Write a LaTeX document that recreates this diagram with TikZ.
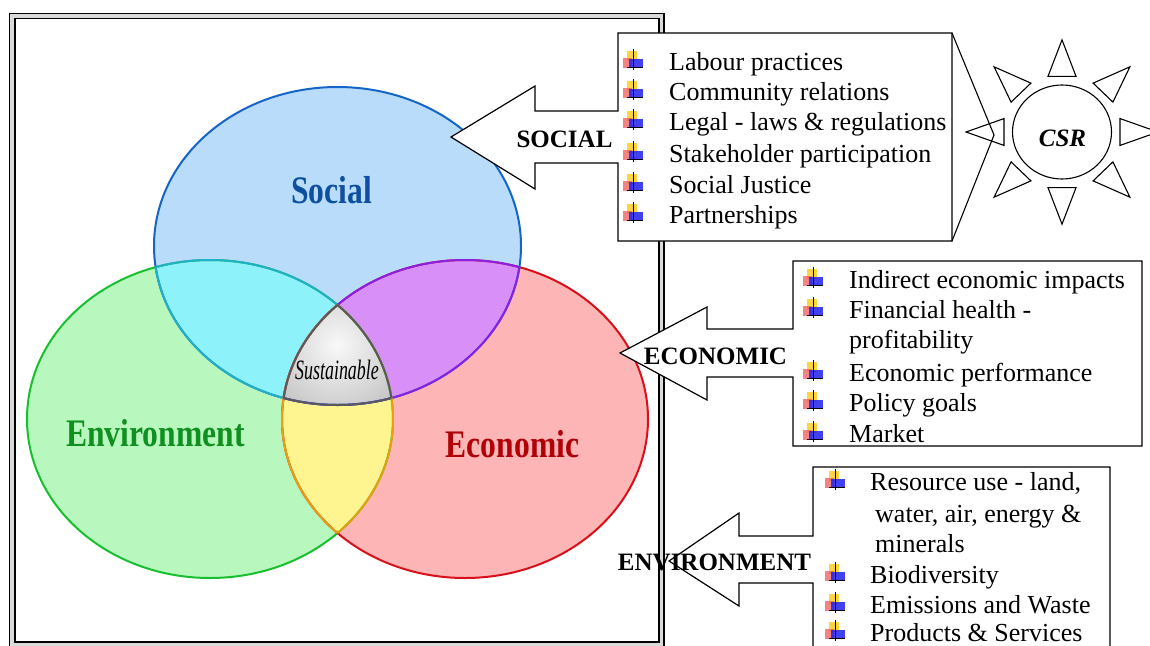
\documentclass[tikz,border=0pt]{standalone}
\usepackage{fontspec}
\setmainfont{Liberation Serif}
\definecolor{socF}{HTML}{B9DCFA}
\definecolor{socL}{HTML}{1565C8}
\definecolor{socT}{HTML}{0D4FA0}
\definecolor{envF}{HTML}{B8F8BE}
\definecolor{envL}{HTML}{18C030}
\definecolor{envT}{HTML}{109020}
\definecolor{ecoF}{HTML}{FDB5B5}
\definecolor{ecoL}{HTML}{D8101A}
\definecolor{ecoT}{HTML}{B00008}
\definecolor{cyF}{HTML}{8EF2FA}
\definecolor{cyL}{HTML}{20B0C8}
\definecolor{puF}{HTML}{D890F8}
\definecolor{puL}{HTML}{8A20E0}
\definecolor{yeF}{HTML}{FFF590}
\definecolor{yeL}{HTML}{E8A010}
\definecolor{bulY}{HTML}{FFD030}
\definecolor{bulR}{HTML}{F05050}
\definecolor{bulB}{HTML}{2020F0}
\def\pathSoc{(337.5,246) ellipse [x radius=183.5, y radius=159]}
\def\pathEnv{(210,419) ellipse [x radius=183, y radius=159]}
\def\pathEco{(465,419) ellipse [x radius=183, y radius=159]}
\tikzset{
  vennline/.style={line width=2pt},
  boxline/.style={draw=black, fill=white, line width=1.2pt, line join=miter},
  listtxt/.style={anchor=base west, inner sep=0pt, font=\fontsize{26}{30}\selectfont},
  arrowlbl/.style={anchor=base, inner sep=0pt, font=\fontsize{25}{25}\selectfont\bfseries},
  vennlbl/.style={anchor=base, inner sep=0pt, font=\fontsize{39}{40}\selectfont\bfseries},
  sunline/.style={line width=1.1pt},
  bul/.pic={
    \fill[bulY, opacity=.9] (4,-19) rectangle (14,-9);
    \fill[bulR, opacity=.7] (0,-12) rectangle (9,-2);
    \fill[bulB, opacity=.85] (6,-11) rectangle (20,-2);
    \draw[line width=1pt] (10,-21) -- (10,0);
    \draw[line width=1pt] (4,-3) -- (20,-3);
  }
}
\begin{document}
\begin{tikzpicture}[x=1pt,y=-1pt]
\useasboundingbox (0,0) rectangle (1150,645);
% frame
\draw[line width=4pt, gray!30] (12.2,16) rectangle (661.6,644.8);
\draw[line width=1.6pt] (9.5,13.5) rectangle (664,647.5);
\draw[line width=1.2pt] (15,18.5) rectangle (659,642);
% venn fills
\fill[envF] \pathEnv;
\fill[ecoF] \pathEco;
\fill[socF] \pathSoc;
\begin{scope}
  \clip \pathSoc;
  \fill[cyF] \pathEnv;
  \fill[puF] \pathEco;
\end{scope}
\begin{scope}
  \clip \pathEnv;
  \fill[yeF] \pathEco;
  \begin{scope}
    \clip \pathEco;
    \clip \pathSoc;
    \shade[inner color=gray!5, outer color=gray!75] (337,345) circle [radius=130];
  \end{scope}
\end{scope}
% venn borders
\draw[vennline, envL] \pathEnv;
\draw[vennline, ecoL] \pathEco;
\draw[vennline, socL] \pathSoc;
\begin{scope}
  \clip \pathSoc;
  \draw[vennline, cyL] \pathEnv;
  \draw[vennline, puL] \pathEco;
\end{scope}
\begin{scope}
  \clip \pathEnv;
  \draw[vennline, cyL] \pathSoc;
  \draw[vennline, yeL] \pathEco;
\end{scope}
\begin{scope}
  \clip \pathEco;
  \draw[vennline, puL] \pathSoc;
  \draw[vennline, yeL] \pathEnv;
\end{scope}
\begin{scope}
  \clip \pathEnv; \clip \pathEco;
  \draw[vennline, gray!70!black] \pathSoc;
\end{scope}
\begin{scope}
  \clip \pathSoc; \clip \pathEco;
  \draw[vennline, gray!70!black] \pathEnv;
\end{scope}
\begin{scope}
  \clip \pathSoc; \clip \pathEnv;
  \draw[vennline, gray!70!black] \pathEco;
\end{scope}
% venn labels
\node[vennlbl, text=socT] (lsoc) at (331.5,203) {\scalebox{0.81}[1]{Social}};
\node[vennlbl, text=envT] (lenv) at (155.5,446) {\scalebox{0.81}[1]{Environment}};
\node[vennlbl, text=ecoT] (leco) at (512.5,457) {\scalebox{0.81}[1]{Economic}};
\node[anchor=base, inner sep=0pt, font=\fontsize{28}{28}\selectfont\itshape] (lsus) at (337,379) {\scalebox{0.64}[1]{Sustainable}};
% social box + arrow
\path[boxline] (618,33) -- (952,33) -- (952,241) -- (618,241) -- (618,163) -- (535,163) -- (535,189) -- (451,137) -- (535,86) -- (535,111) -- (618,111) -- cycle;
% economic box + arrow
\path[boxline] (793,261) -- (1142,261) -- (1142,446) -- (793,446) -- (793,377) -- (707,377) -- (707,400) -- (620,353) -- (707,307) -- (707,329) -- (793,329) -- cycle;
% environment box + arrow
\path[boxline] (813,467) -- (1110,467) -- (1110,660) -- (813,660) -- (813,583) -- (739,583) -- (739,606) -- (669,561) -- (739,513) -- (739,536) -- (813,536) -- cycle;
% arrow labels
\node[arrowlbl] (asoc) at (564.5,147) {SOCIAL};
\node[arrowlbl] (aeco) at (715.5,364) {ECONOMIC};
\node[arrowlbl] (aenv) at (714.5,570) {ENVIRONMENT};
% social list
\foreach \yy in {70,100,130,162,193,223} \pic at (623,\yy) {bul};
\node[listtxt] (s1) at (669,70) {Labour practices};
\node[listtxt] (s2) at (669,100) {Community relations};
\node[listtxt] (s3) at (669,130) {Legal - laws \& regulations};
\node[listtxt] (s4) at (669,162) {Stakeholder participation};
\node[listtxt] (s5) at (669,193) {Social Justice};
\node[listtxt] (s6) at (669,223) {Partnerships};
% economic list
\foreach \yy in {288,318,381,411,442} \pic at (803,\yy) {bul};
\node[listtxt] (e1) at (849,288) {Indirect economic impacts};
\node[listtxt] (e2) at (849,318) {Financial health -};
\node[listtxt] (e3) at (849,348) {profitability};
\node[listtxt] (e4) at (849,381) {Economic performance};
\node[listtxt] (e5) at (849,411) {Policy goals};
\node[listtxt] (e6) at (849,442) {Market};
% environment list
\foreach \yy in {490,583,613,641} \pic at (825,\yy) {bul};
\node[listtxt] (n1) at (870,490) {Resource use - land,};
\node[listtxt] (n2) at (875,522) {water, air, energy \&};
\node[listtxt] (n3) at (875,552) {minerals};
\node[listtxt] (n4) at (870,583) {Biodiversity};
\node[listtxt] (n5) at (870,613) {Emissions and Waste};
\node[listtxt] (n6) at (870,641) {Products \& Services};
% CSR sun
\coordinate (wedge) at (994,135);
\draw[sunline] (952,33) -- (wedge) -- (952,241);
\draw[sunline] (1062,132) ellipse [x radius=49.5, y radius=47];
\begin{scope}[shift={(1062,132)}, yscale=0.96]
  \foreach \a in {0,45,...,315} {
    \draw[sunline, line join=miter, rotate=\a] (58,-14) -- (96,0) -- (58,14) -- cycle;
  }
\end{scope}
\node[anchor=base, inner sep=0pt, font=\fontsize{25}{25}\selectfont\bfseries\itshape] (csr) at (1062.5,146) {CSR};
\end{tikzpicture}
\end{document}
